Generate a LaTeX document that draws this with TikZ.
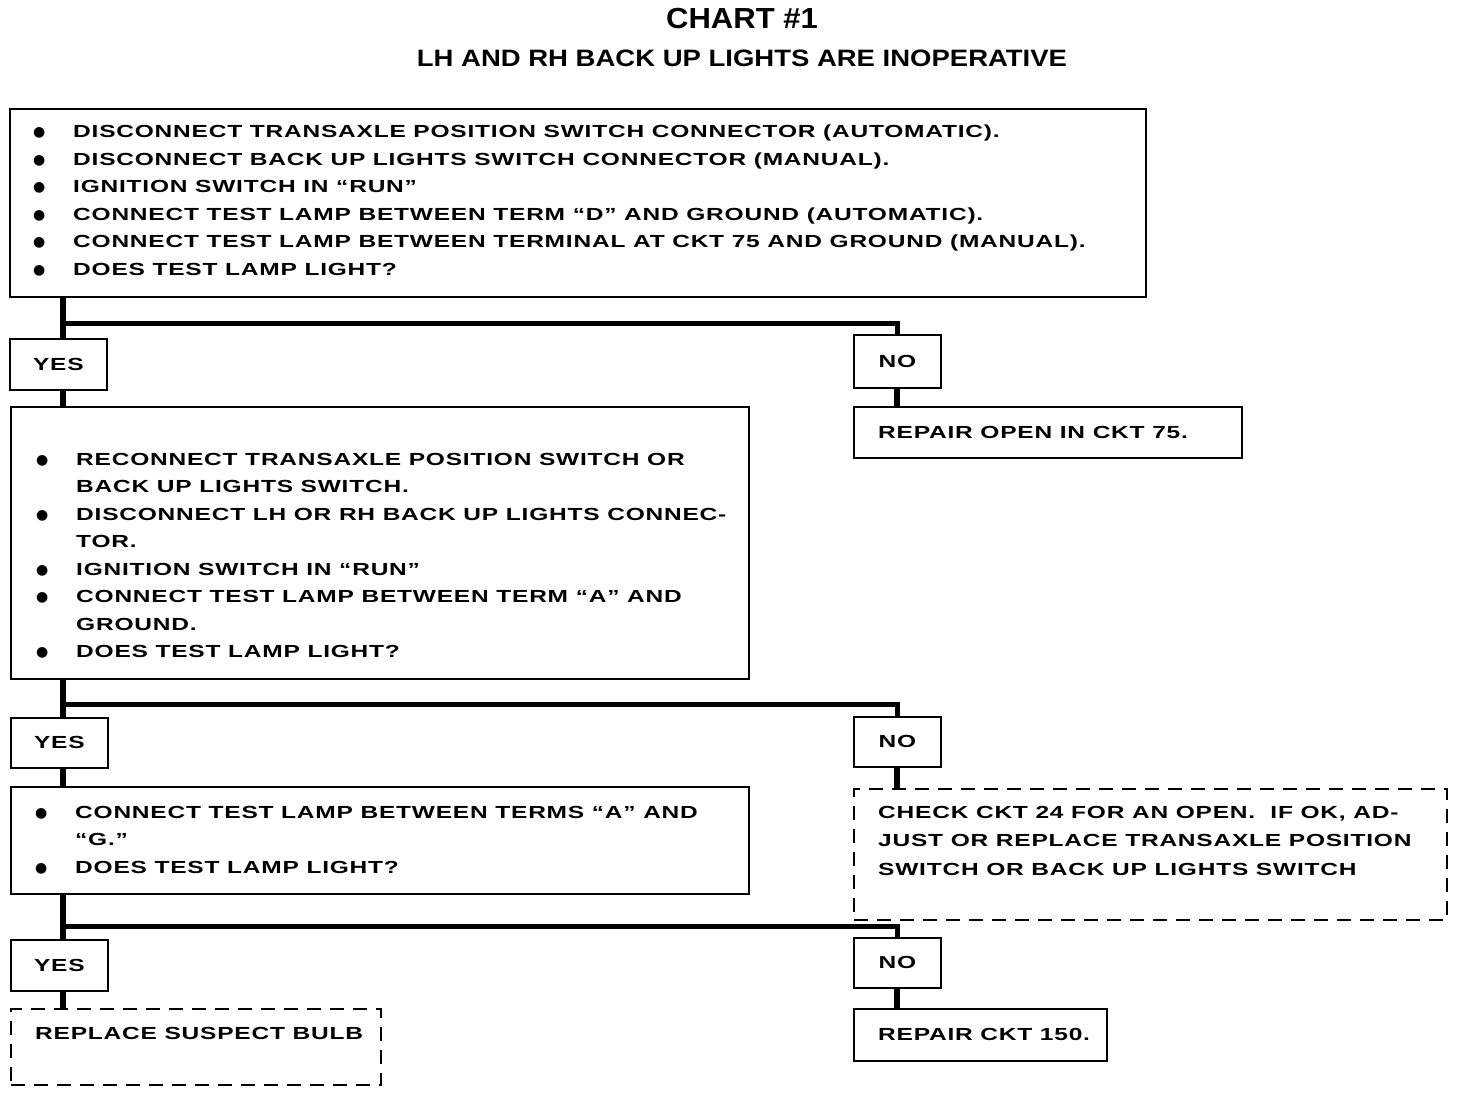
\documentclass[tikz,border=0pt]{standalone}
\usepackage{fontspec}
\setmainfont{Liberation Sans}
\newfontfamily\bodyfont[FakeStretch=1.40,LetterSpace=4.5]{Liberation Sans}
\newfontfamily\headfont[FakeStretch=1.07]{Liberation Sans}
\newfontfamily\subfont[FakeStretch=1.16]{Liberation Sans}
\newfontfamily\dotfont{DejaVu Sans}
\newcommand\bl{\makebox[40pt][l]{\raisebox{1pt}{\dotfont\fontsize{14}{14}\selectfont ●}}}
\newcommand\ind{\hspace*{40pt}}
\begin{document}
\begin{tikzpicture}[x=1pt,y=-1pt,
  box/.style={draw, line width=1.8pt, inner sep=0pt, anchor=north west},
  dbox/.style={box, dash pattern=on 14pt off 9pt},
  trunk/.style={line width=6pt},
  hbar/.style={line width=5pt},
  txt/.style={anchor=base west, inner sep=0pt, font=\bodyfont\bfseries\fontsize{17.5}{27.5}\selectfont},
  yn/.style={box, font=\bodyfont\bfseries\fontsize{17.5}{20}\selectfont}]
\fill[white] (0,0) rectangle (1472,1094);
\useasboundingbox (0,0) rectangle (1472,1094);

% titles
\node[anchor=base, inner sep=0pt, font=\headfont\bfseries\fontsize{29}{30}\selectfont] (title) at (742,29) {CHART \#1};
\node[anchor=base, inner sep=0pt, font=\subfont\bfseries\fontsize{23.7}{25}\selectfont] (sub) at (742,67) {LH AND RH BACK UP LIGHTS ARE INOPERATIVE};

% boxes
\node[box, minimum width=1136pt, minimum height=188pt] (b1) at (9,108) {};
\node[yn, minimum width=97pt, minimum height=51pt] (y1) at (9,338) {YES};
\node[yn, minimum width=87pt, minimum height=53pt] (n1) at (853,334) {NO};
\node[box, minimum width=388pt, minimum height=51pt] (r1) at (853,406) {};
\node[box, minimum width=738pt, minimum height=272pt] (b2) at (10,406) {};
\node[yn, minimum width=97pt, minimum height=50pt] (y2) at (10,717) {YES};
\node[yn, minimum width=87pt, minimum height=50pt] (n2) at (853,716) {NO};
\node[box, minimum width=738pt, minimum height=107pt] (b3) at (10,786) {};
\node[dbox, minimum width=593pt, minimum height=131pt] (d1) at (853,788) {};
\node[yn, minimum width=97pt, minimum height=51pt] (y3) at (10,939) {YES};
\node[yn, minimum width=87pt, minimum height=50pt] (n3) at (853,937) {NO};
\node[dbox, minimum width=370pt, minimum height=76pt] (d2) at (10,1008) {};
\node[box, minimum width=253pt, minimum height=52pt] (r2) at (853,1008) {};

% texts
\node[txt] (t1) at (33,138) {\begin{tabular}[t]{@{}l@{}}
\bl DISCONNECT TRANSAXLE POSITION SWITCH CONNECTOR (AUTOMATIC).\\
\bl DISCONNECT BACK UP LIGHTS SWITCH CONNECTOR (MANUAL).\\
\bl IGNITION SWITCH IN “RUN”\\
\bl CONNECT TEST LAMP BETWEEN TERM “D” AND GROUND (AUTOMATIC).\\
\bl CONNECT TEST LAMP BETWEEN TERMINAL AT CKT 75 AND GROUND (MANUAL).\\
\bl DOES TEST LAMP LIGHT?
\end{tabular}};
\node[txt] (tr1) at (878,438) {REPAIR OPEN IN CKT 75.};
\node[txt] (t2) at (36,465) {\begin{tabular}[t]{@{}l@{}}
\bl RECONNECT TRANSAXLE POSITION SWITCH OR\\
\ind BACK UP LIGHTS SWITCH.\\
\bl DISCONNECT LH OR RH BACK UP LIGHTS CONNEC-\\
\ind TOR.\\
\bl IGNITION SWITCH IN “RUN”\\
\bl CONNECT TEST LAMP BETWEEN TERM “A” AND\\
\ind GROUND.\\
\bl DOES TEST LAMP LIGHT?
\end{tabular}};
\node[txt] (t3) at (35,818) {\begin{tabular}[t]{@{}l@{}}
\bl CONNECT TEST LAMP BETWEEN TERMS “A” AND\\
\ind “G.”\\
\bl DOES TEST LAMP LIGHT?
\end{tabular}};
\node[txt, font=\bodyfont\bfseries\fontsize{17.5}{28.5}\selectfont] (td1) at (878,818) {\begin{tabular}[t]{@{}l@{}}
CHECK CKT 24 FOR AN OPEN.\ \ IF OK, AD-\\
JUST OR REPLACE TRANSAXLE POSITION\\
SWITCH OR BACK UP LIGHTS SWITCH
\end{tabular}};
\node[txt] (td2) at (35,1039) {REPLACE SUSPECT BULB};
\node[txt] (tr2) at (878,1040) {REPAIR CKT 150.};

% connectors
\coordinate (j1) at (63,323.5);
\coordinate (j2) at (63,704);
\coordinate (j3) at (63,926);
\draw[trunk] (j1 |- b1.south) -- (j1 |- y1.north);
\draw[hbar] (j1) -| (n1.north);
\draw[trunk] (j1 |- y1.south) -- (j1 |- b2.north);
\draw[trunk] (n1.south) -- (n1.south |- r1.north);

\draw[trunk] (j2 |- b2.south) -- (j2 |- y2.north);
\draw[hbar] (j2) -| (n2.north);
\draw[trunk] (j2 |- y2.south) -- (j2 |- b3.north);
\draw[trunk] (n2.south) -- (n2.south |- d1.north);

\draw[trunk] (j3 |- b3.south) -- (j3 |- y3.north);
\draw[hbar] (j3) -| (n3.north);
\draw[trunk] (j3 |- y3.south) -- (j3 |- d2.north);
\draw[trunk] (n3.south) -- (n3.south |- r2.north);
\end{tikzpicture}
\end{document}
